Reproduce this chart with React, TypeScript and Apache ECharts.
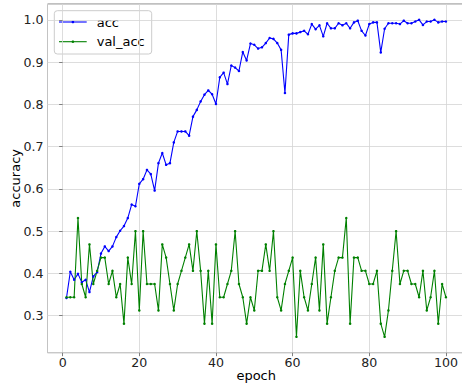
import React, { useEffect, useRef } from "react";
import * as echarts from "echarts";

const epochs: number[] = Array.from({ length: 100 }, (_, i) => i + 1);

const acc: number[] = [
  0.342, 0.404, 0.385, 0.399, 0.379, 0.385, 0.356, 0.393, 0.403, 0.447,
  0.464, 0.453, 0.464, 0.486, 0.501, 0.512, 0.531, 0.563, 0.559, 0.612,
  0.623, 0.645, 0.635, 0.596, 0.661, 0.685, 0.657, 0.661, 0.710, 0.736,
  0.736, 0.736, 0.726, 0.771, 0.787, 0.807, 0.823, 0.833, 0.824, 0.801,
  0.864, 0.875, 0.848, 0.892, 0.887, 0.879, 0.924, 0.904, 0.944, 0.941,
  0.932, 0.935, 0.945, 0.957, 0.955, 0.945, 0.929, 0.827, 0.965, 0.968,
  0.968, 0.971, 0.974, 0.966, 0.990, 0.978, 0.987, 0.961, 0.992, 0.980,
  0.980, 0.992, 0.987, 0.992, 0.980, 0.994, 0.998, 0.974, 0.963, 0.990,
  0.994, 0.994, 0.923, 0.979, 0.992, 0.992, 0.992, 0.990, 0.998, 0.992,
  0.992, 0.996, 1.0, 0.988, 0.996, 0.996, 1.0, 0.994, 0.996, 0.996,
];

// validation accuracy as counts out of 32
const valCorrect: number[] = [
  11, 11, 11, 17, 12, 11, 15, 12, 13, 14, 14, 12, 13, 11, 12, 9, 14, 12, 16, 10,
  16, 12, 12, 12, 10, 15, 14, 12, 10, 12, 13, 14, 15, 13, 16, 13, 9, 13, 9, 15,
  11, 11, 12, 13, 16, 12, 11, 9, 11, 10, 13, 13, 15, 13, 16, 11, 10, 12, 13, 14,
  8, 13, 11, 10, 12, 14, 10, 15, 9, 11, 13, 14, 14, 17, 9, 14, 14, 13, 13, 12,
  12, 13, 9, 8, 10, 13, 16, 12, 13, 13, 12, 12, 11, 13, 10, 11, 13, 9, 12, 11,
];
const valTotal = 32;
const valAcc: number[] = valCorrect.map((c) => c / valTotal);

const seriesNames: string[] = ["acc", "val_acc"];
const seriesColors: string[] = ["#0000ff", "#008000"];
const xTitle = "epoch";
const yTitle = "accuracy";

const FONT = "DejaVu Sans";

export default function App() {
  const ref = useRef<HTMLDivElement>(null);
  useEffect(() => {
    if (!ref.current) return;
    const chart = echarts.init(ref.current, undefined, { renderer: "svg" });
    const gridLeft = 47.5;
    const gridTop = 4;
    const gridW = 417.4;
    const gridH = 348.7;
    const lg = { x: 54.3, y: 10.7, w: 97.4, h: 43.3 };
    const rows = [22, 41.7];
    chart.setOption({
      animation: false,
      grid: {
        left: gridLeft,
        top: gridTop,
        width: gridW,
        height: gridH,
        outerBoundsMode: "none",
        containLabel: false,
        show: true,
        borderColor: "#808080",
        borderWidth: 1,
        backgroundColor: "transparent",
      },
      xAxis: {
        type: "value",
        min: -3.95,
        max: 104.95,
        splitNumber: 5,
        name: xTitle,
        nameLocation: "middle",
        nameMoveOverlap: false,
        nameGap: 16,
        nameTextStyle: { fontFamily: FONT, fontSize: 13, color: "#000" },
        axisLine: { show: false },
        axisTick: { show: true, length: 3.5, lineStyle: { color: "#808080" } },
        axisLabel: {
          showMinLabel: false,
          showMaxLabel: false,
          margin: 3.5,
          fontFamily: FONT,
          fontSize: 12.6,
          color: "#222",
        },
        splitLine: { show: true, lineStyle: { color: "#d4d4d4", width: 0.8 } },
      },
      yAxis: {
        type: "value",
        min: 0.2125,
        max: 1.0375,
        splitNumber: 8,
        name: yTitle,
        nameLocation: "middle",
        nameMoveOverlap: false,
        nameGap: 26,
        nameTextStyle: { fontFamily: FONT, fontSize: 13, color: "#000" },
        axisLine: { show: false },
        axisTick: { show: true, length: 3.5, lineStyle: { color: "#808080" } },
        axisLabel: {
          showMinLabel: false,
          showMaxLabel: false,
          margin: 4,
          fontFamily: FONT,
          fontSize: 12.6,
          color: "#222",
          formatter: (v: number) => v.toFixed(1),
        },
        splitLine: { show: true, lineStyle: { color: "#d4d4d4", width: 0.8 } },
      },
      series: [
        {
          name: seriesNames[0],
          type: "line",
          data: epochs.map((e, i) => [e, acc[i]]),
          symbol: "circle",
          symbolSize: 2.5,
          showSymbol: true,
          itemStyle: { color: seriesColors[0] },
          lineStyle: { color: seriesColors[0], width: 1.1 },
          z: 3,
        },
        {
          name: seriesNames[1],
          type: "line",
          data: epochs.map((e, i) => [e, valAcc[i]]),
          symbol: "circle",
          symbolSize: 2.5,
          showSymbol: true,
          itemStyle: { color: seriesColors[1] },
          lineStyle: { color: seriesColors[1], width: 1.1 },
          z: 3,
        },
      ],
      graphic: [
        {
          type: "group",
          z: 100,
          children: [
            {
              type: "rect",
              shape: { x: lg.x, y: lg.y, width: lg.w, height: lg.h, r: 3 },
              style: { fill: "rgba(255,255,255,0.8)", stroke: "#cccccc", lineWidth: 1 },
            },
            ...seriesNames.flatMap((name, i) => [
              {
                type: "line",
                shape: { x1: 59, y1: rows[i], x2: 86.7, y2: rows[i] },
                style: { stroke: seriesColors[i], lineWidth: 1.1 },
              },
              {
                type: "circle",
                shape: { cx: 72.9, cy: rows[i], r: 1.3 },
                style: { fill: seriesColors[i] },
              },
              {
                type: "text",
                x: 96.7,
                y: rows[i],
                style: {
                  text: name,
                  fontFamily: FONT,
                  fontSize: 13,
                  fill: "#000",
                  verticalAlign: "middle",
                  align: "left",
                },
              },
            ]),
          ],
        },
      ],
    });
    return () => chart.dispose();
  }, []);
  return (
    <div
      ref={ref}
      style={{ position: "absolute", left: 0, top: 0, width: 462, height: 388, background: "#fff" }}
    />
  );
}
